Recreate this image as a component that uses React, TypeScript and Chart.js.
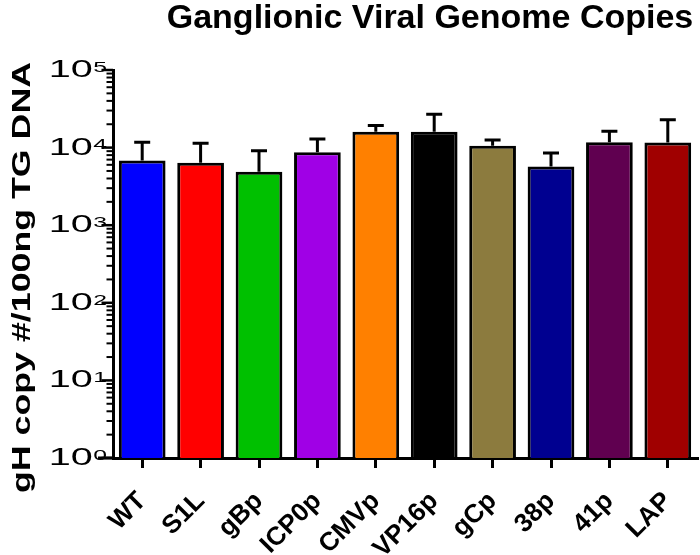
import React, { useEffect, useRef } from 'react';
import { Chart, registerables } from 'chart.js';

Chart.register(...registerables);

const categories = ['WT', 'S1L', 'gBp', 'ICP0p', 'CMVp', 'VP16p', 'gCp', '38p', '41p', 'LAP'];
const means = [6800, 6400, 4900, 8700, 16000, 16000, 10600, 5700, 11700, 11600];
const errorsUp = [4900, 5000, 4200, 4200, 3200, 10900, 1900, 2800, 4600, 11200];
const barColors = ['#0000FF', '#FF0000', '#00C000', '#A000E6', '#FF8000', '#000000', '#8C7B3E', '#000090', '#600050', '#A00000'];
const yPowers = [0, 1, 2, 3, 4, 5];
const chartTitle = 'Ganglionic Viral Genome Copies';
const yTitle = 'gH copy #/100ng TG DNA';

const FONT = '"Liberation Sans", Arial, sans-serif';

const errorBarPlugin = {
  id: 'errorBars',
  afterDatasetsDraw(chart: any) {
    const ctx = chart.ctx;
    const meta = chart.getDatasetMeta(0);
    const ys = chart.scales.y;
    ctx.save();
    ctx.strokeStyle = '#000';
    ctx.lineWidth = 3;
    meta.data.forEach((el: any, i: number) => {
      const top = ys.getPixelForValue(means[i] + errorsUp[i]);
      ctx.beginPath();
      ctx.moveTo(el.x, el.y);
      ctx.lineTo(el.x, top);
      ctx.moveTo(el.x - 8, top);
      ctx.lineTo(el.x + 8, top);
      ctx.stroke();
    });
    ctx.restore();
  },
};

const decorPlugin = {
  id: 'decor',
  afterDraw(chart: any) {
    const ctx = chart.ctx;
    const ys = chart.scales.y;
    const area = chart.chartArea;
    const left = area.left;
    ctx.save();
    // y ticks (major and minor)
    ctx.strokeStyle = '#000';
    ys.ticks.forEach((t: any) => {
      const v = t.value;
      const p = Math.log10(v);
      const major = Math.abs(p - Math.round(p)) < 1e-9;
      const y = ys.getPixelForValue(v);
      ctx.lineWidth = major ? 2.5 : 2;
      const len = major ? 10 : 5;
      ctx.beginPath();
      ctx.moveTo(left - 1.5 - len, y);
      ctx.lineTo(left, y);
      ctx.stroke();
    });
    // y tick labels 10^n
    ctx.fillStyle = '#000';
    yPowers.forEach((p) => {
      const y = ys.getPixelForValue(Math.pow(10, p));
      ctx.save();
      ctx.translate(left - 6, y);
      ctx.scale(1.65, 1);
      ctx.textAlign = 'right';
      ctx.textBaseline = 'alphabetic';
      ctx.font = '15px ' + FONT;
      const ew = ctx.measureText(String(p)).width;
      ctx.fillText(String(p), 0, 1.7);
      ctx.font = '24px ' + FONT;
      ctx.fillText('10', -ew - 0.3, 7);
      ctx.restore();
    });
    // x axis extension to the left
    ctx.lineWidth = 3;
    ctx.beginPath();
    ctx.moveTo(left - 15, area.bottom);
    ctx.lineTo(left, area.bottom);
    ctx.stroke();
    // y title
    ctx.save();
    ctx.translate(29.5, 277.5);
    ctx.rotate(-Math.PI / 2);
    ctx.scale(1.43, 1);
    ctx.font = 'bold 25px ' + FONT;
    ctx.textAlign = 'center';
    ctx.textBaseline = 'alphabetic';
    ctx.fillText(yTitle, 0, 0);
    ctx.restore();
    // chart title
    ctx.font = 'bold 34px ' + FONT;
    ctx.textAlign = 'center';
    ctx.textBaseline = 'alphabetic';
    ctx.fillText(chartTitle, 430, 28);
    ctx.restore();
  },
};

export default function App() {
  const ref = useRef<HTMLCanvasElement | null>(null);
  useEffect(() => {
    document.body.style.margin = '0';
    const canvas = ref.current;
    if (!canvas) return;
    const chart = new Chart(canvas, {
      type: 'bar',
      data: {
        labels: categories,
        datasets: [
          {
            data: means,
            backgroundColor: barColors,
            borderColor: '#000',
            borderWidth: 3,
            barPercentage: 0.8,
            categoryPercentage: 1,
          },
        ],
      },
      options: {
        responsive: false,
        animation: false,
        devicePixelRatio: 1,
        layout: { padding: { top: 70, right: 3, left: 0, bottom: 0 } },
        plugins: {
          legend: { display: false },
          title: { display: false },
          tooltip: { enabled: false },
        },
        scales: {
          x: {
            type: 'category',
            grid: {
              display: true,
              drawOnChartArea: false,
              drawTicks: true,
              offset: false,
              color: '#000',
              lineWidth: 3,
              tickLength: 10,
            },
            border: { display: true, color: '#000', width: 3 },
            ticks: {
              color: '#000',
              font: { family: FONT, size: 26, weight: 'bold' },
              minRotation: 45,
              maxRotation: 45,
              padding: 18,
              autoSkip: false,
            },
            afterFit(scale: any) {
              scale.height = 97;
              scale.paddingLeft = 0;
              scale.paddingRight = 0;
            },
          },
          y: {
            type: 'logarithmic',
            min: 1,
            max: 100000,
            grid: { display: false },
            border: { display: true, color: '#000', width: 3 },
            ticks: { display: false },
            afterBuildTicks(scale: any) {
              const ticks: any[] = [];
              for (let p = 0; p < 5; p++) {
                for (let m = 1; m <= 9; m++) ticks.push({ value: m * Math.pow(10, p) });
              }
              ticks.push({ value: 100000 });
              scale.ticks = ticks;
            },
            afterFit(scale: any) {
              scale.width = 113;
              scale.paddingTop = 0;
              scale.paddingBottom = 0;
            },
          },
        },
      },
      plugins: [errorBarPlugin, decorPlugin],
    } as any);
    return () => chart.destroy();
  }, []);
  return <canvas ref={ref} width={700} height={555} style={{ display: 'block' }} />;
}
